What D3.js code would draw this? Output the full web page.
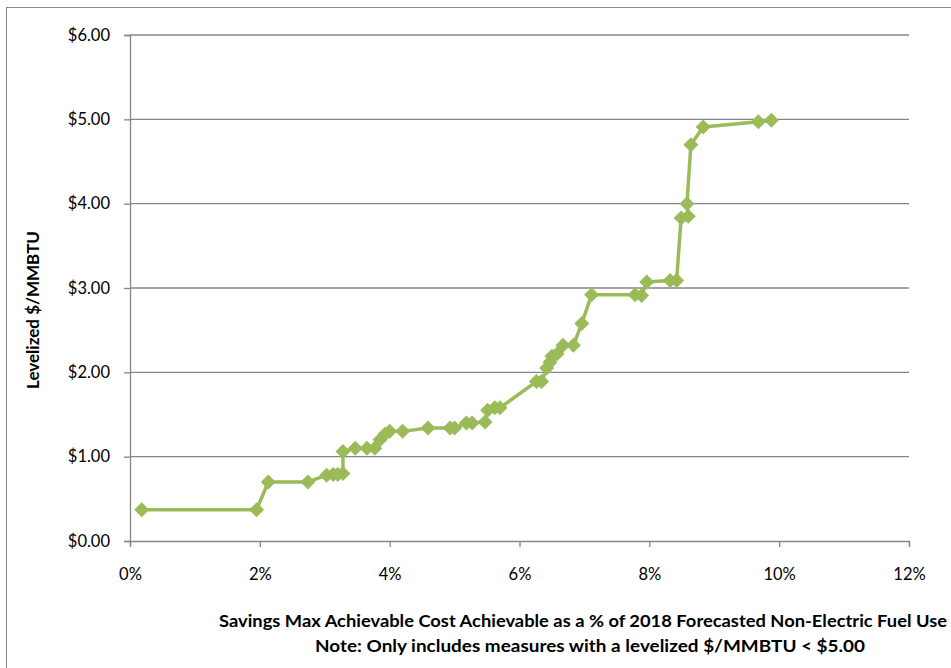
<!DOCTYPE html>
<html><head><meta charset="utf-8">
<script src="https://cdn.jsdelivr.net/npm/d3@7"></script>
<style>body{margin:0;background:#fff}svg{display:block}</style>
</head><body>
<script>
const pctSaved = [0.18,1.95,2.13,2.74,3.03,3.13,3.20,3.28,3.28,3.47,3.65,3.77,3.85,3.93,4.00,4.20,4.59,4.93,5.00,5.18,5.27,5.47,5.51,5.62,5.70,6.26,6.34,6.42,6.47,6.50,6.58,6.67,6.83,6.96,7.11,7.78,7.88,7.96,8.32,8.42,8.49,8.60,8.58,8.64,8.83,9.68,9.88];
const levelizedCost = [0.37,0.37,0.70,0.70,0.78,0.79,0.79,0.80,1.06,1.10,1.10,1.10,1.20,1.27,1.30,1.30,1.34,1.34,1.34,1.40,1.40,1.41,1.55,1.58,1.58,1.89,1.89,2.05,2.12,2.19,2.22,2.32,2.32,2.58,2.92,2.92,2.91,3.07,3.09,3.09,3.83,3.85,4.00,4.70,4.91,4.97,4.99];
const xTicks = [0,2,4,6,8,10,12];
const yTicks = [0,1,2,3,4,5,6];
const xTitle = "Savings Max  Achievable  Cost  Achievable  as a % of 2018 Forecasted  Non-Electric  Fuel Use";
const xNote = "Note: Only includes  measures with a levelized $/MMBTU  < $5.00";
const yTitle = "Levelized $/MMBTU";

const W = 951, H = 668;
const svg = d3.select("body").append("svg").attr("width", W).attr("height", H);
svg.append("rect").attr("x",6.5).attr("y",7.5).attr("width",W+20).attr("height",H+20)
  .attr("fill","none").attr("stroke","#888").attr("stroke-width",1);

const x = d3.scaleLinear().domain([0,12]).range([130,909]);
const y = d3.scaleLinear().domain([0,6]).range([541,35]);

const font = "Lato, 'Open Sans', sans-serif";
svg.append("g").selectAll("line").data(yTicks.filter(d=>d>0)).join("line")
  .attr("x1",x(0)).attr("x2",x(12)).attr("y1",d=>y(d)).attr("y2",d=>y(d))
  .attr("stroke","#868686").attr("stroke-width",1.3);

const yAxis = svg.append("g").attr("transform",`translate(${x(0)},0)`)
  .call(d3.axisLeft(y).tickValues(yTicks).tickSize(6).tickPadding(14).tickFormat(d=>"$"+d3.format(".2f")(d)));
const xAxis = svg.append("g").attr("transform",`translate(0,${y(0)})`)
  .call(d3.axisBottom(x).tickValues(xTicks).tickSize(6).tickPadding(21).tickFormat(d=>d+"%"));
[yAxis,xAxis].forEach(g=>{
  g.select(".domain").attr("stroke","#868686").attr("stroke-width",1.3);
  g.selectAll(".tick line").attr("stroke","#868686").attr("stroke-width",1.3);
  g.selectAll("text").attr("font-family",font).attr("font-size",16.5).attr("fill","#000");
});

const data = pctSaved.map((p,i)=>({p, v: levelizedCost[i]}));
const green = "#9BBB59";
svg.append("path").datum(data)
  .attr("d", d3.line().x(d=>x(d.p)).y(d=>y(d.v)))
  .attr("fill","none").attr("stroke",green).attr("stroke-width",3.5).attr("stroke-linejoin","round");
const r = 7.5;
svg.append("g").selectAll("path").data(data).join("path")
  .attr("transform",d=>`translate(${x(d.p)},${y(d.v)})`)
  .attr("d",`M0,${-r}L${r},0L0,${r}L${-r},0Z`).attr("fill",green);

svg.append("text").attr("x",583).attr("y",627).attr("text-anchor","middle")
  .attr("font-family",font).attr("font-weight","bold").attr("font-size",17.5)
  .attr("textLength",728).attr("lengthAdjust","spacingAndGlyphs").text(xTitle);
svg.append("text").attr("x",590).attr("y",652).attr("text-anchor","middle")
  .attr("font-family",font).attr("font-weight","bold").attr("font-size",17.5)
  .attr("textLength",550).attr("lengthAdjust","spacingAndGlyphs").text(xNote);
svg.append("text").attr("transform","translate(39,310) rotate(-90)").attr("text-anchor","middle")
  .attr("font-family",font).attr("font-weight","bold").attr("font-size",17).text(yTitle);
</script>
</body></html>
